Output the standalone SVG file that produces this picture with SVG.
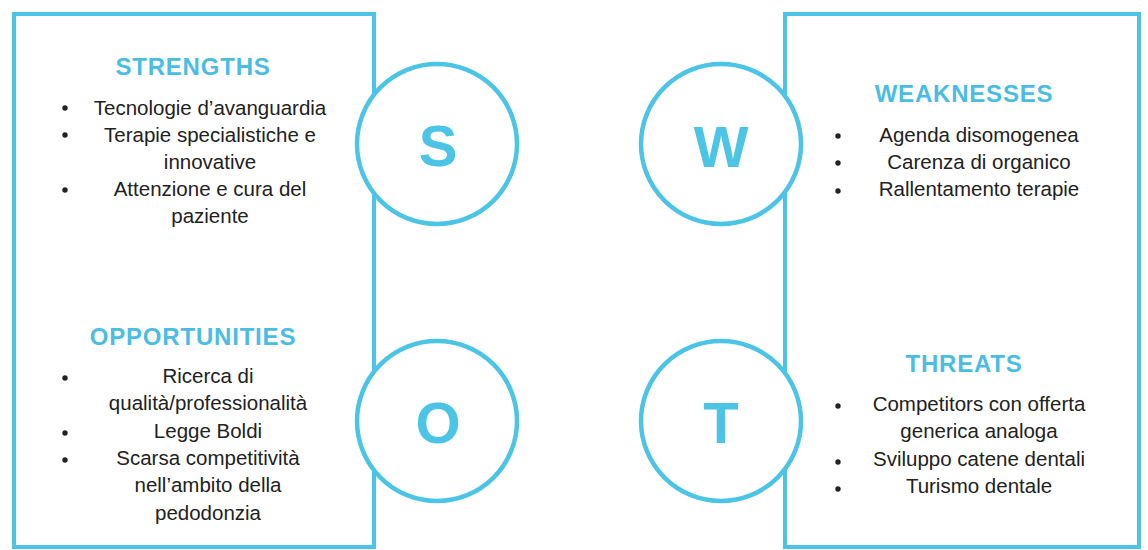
<svg xmlns="http://www.w3.org/2000/svg" width="1148" height="550" viewBox="0 0 1148 550">
<style>
.box{fill:#fff;stroke:#4cc4e6;stroke-width:4}
.circ{fill:#fff;stroke:#4cc4e6;stroke-width:4.5}
.title{font-family:"Liberation Sans",Arial,sans-serif;font-weight:700;font-size:24px;letter-spacing:0.8px;fill:#4bbde3;text-anchor:middle}
.body{font-family:"Liberation Sans",Arial,sans-serif;font-size:20.5px;fill:#222;text-anchor:middle}
.letter{font-family:"Liberation Sans",Arial,sans-serif;font-weight:700;font-size:58px;fill:#4cc4e6;text-anchor:middle}
.dot{fill:#222}
</style>
<rect width="1148" height="550" fill="#fff"/>
<g id="box-left"><rect class="box" x="14" y="14" width="360" height="533"/></g>
<g id="box-right"><rect class="box" x="785" y="14" width="354" height="533"/></g>

<g id="strengths">
<text class="title" x="193" y="75">STRENGTHS</text>
<circle class="dot" cx="65" cy="108" r="2.7"/>
<circle class="dot" cx="65" cy="135" r="2.7"/>
<circle class="dot" cx="65" cy="190" r="2.7"/>
<text class="body" x="210" y="115">Tecnologie d’avanguardia</text>
<text class="body" x="210" y="142">Terapie specialistiche e</text>
<text class="body" x="210" y="169">innovative</text>
<text class="body" x="210" y="196">Attenzione e cura del</text>
<text class="body" x="210" y="223">paziente</text>
</g>

<g id="opportunities">
<text class="title" x="193" y="345">OPPORTUNITIES</text>
<circle class="dot" cx="65" cy="378" r="2.7"/>
<circle class="dot" cx="65" cy="433" r="2.7"/>
<circle class="dot" cx="65" cy="460" r="2.7"/>
<text class="body" x="208" y="383">Ricerca di</text>
<text class="body" x="208" y="410">qualità/professionalità</text>
<text class="body" x="208" y="438">Legge Boldi</text>
<text class="body" x="208" y="465">Scarsa competitività</text>
<text class="body" x="208" y="492">nell’ambito della</text>
<text class="body" x="208" y="520">pedodonzia</text>
</g>

<g id="weaknesses">
<text class="title" x="964" y="102">WEAKNESSES</text>
<circle class="dot" cx="838" cy="136" r="2.7"/>
<circle class="dot" cx="838" cy="163" r="2.7"/>
<circle class="dot" cx="838" cy="191" r="2.7"/>
<text class="body" x="979" y="142">Agenda disomogenea</text>
<text class="body" x="979" y="169">Carenza di organico</text>
<text class="body" x="979" y="196">Rallentamento terapie</text>
</g>

<g id="threats">
<text class="title" x="964" y="372">THREATS</text>
<circle class="dot" cx="838" cy="406" r="2.7"/>
<circle class="dot" cx="838" cy="462" r="2.7"/>
<circle class="dot" cx="838" cy="489" r="2.7"/>
<text class="body" x="979" y="411">Competitors con offerta</text>
<text class="body" x="979" y="438">generica analoga</text>
<text class="body" x="979" y="466">Sviluppo catene dentali</text>
<text class="body" x="979" y="493">Turismo dentale</text>
</g>

<g id="circle-s"><circle class="circ" cx="437" cy="144" r="80"/><text class="letter" x="438" y="166">S</text></g>
<g id="circle-w"><circle class="circ" cx="721" cy="144" r="80"/><text class="letter" x="721" y="167">W</text></g>
<g id="circle-o"><circle class="circ" cx="437" cy="421" r="80"/><text class="letter" x="438" y="443">O</text></g>
<g id="circle-t"><circle class="circ" cx="721" cy="421" r="80"/><text class="letter" x="721" y="443">T</text></g>
</svg>
